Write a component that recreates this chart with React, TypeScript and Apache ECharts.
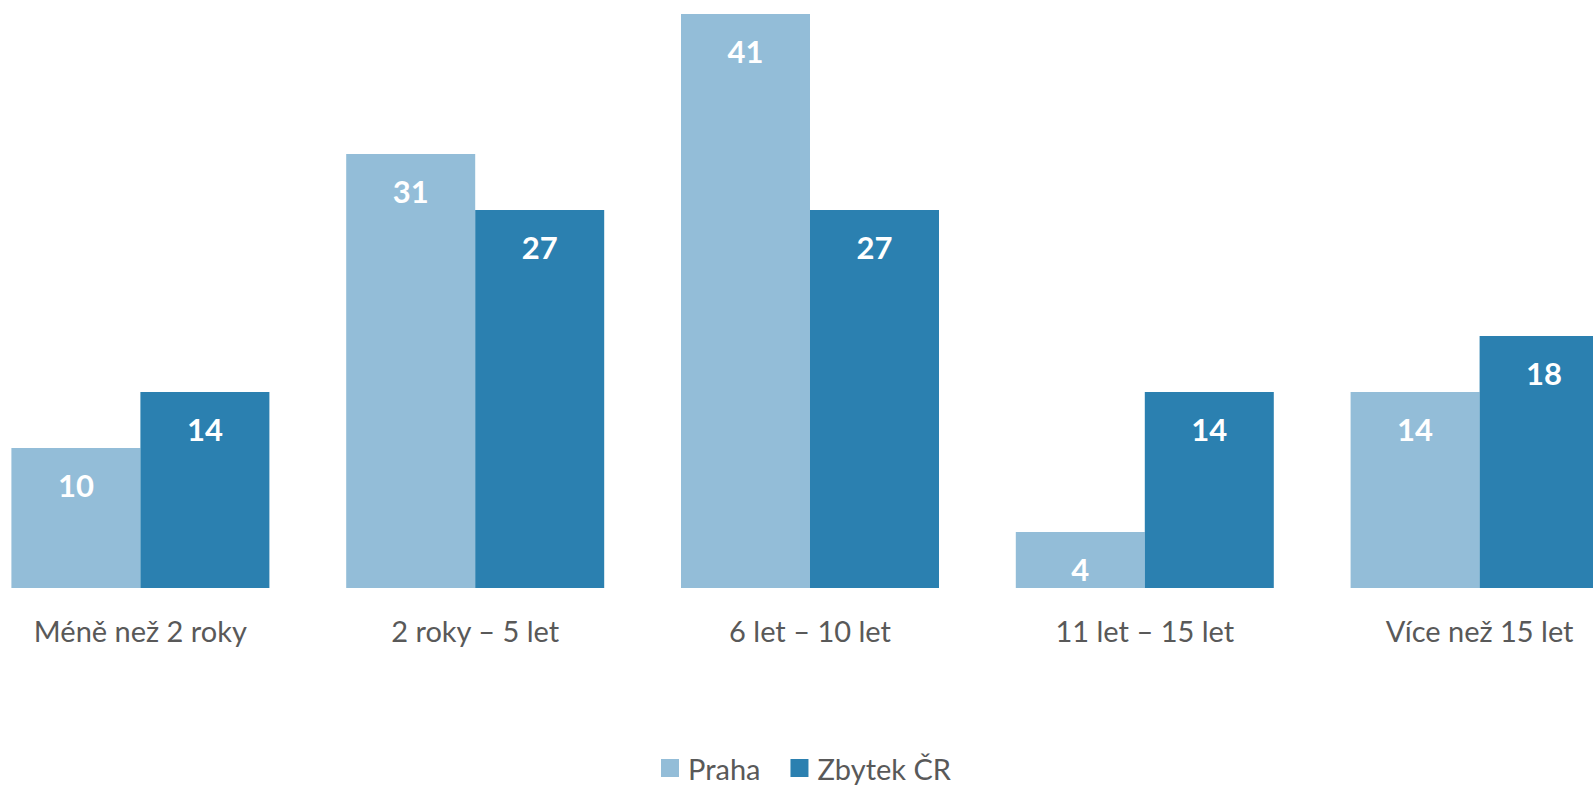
import React, { useEffect, useRef } from "react";
import * as echarts from "echarts";

const categories = ["Méně než 2 roky", "2 roky – 5 let", "6 let – 10 let", "11 let – 15 let", "Více než 15 let"];
const praha = [10, 31, 41, 4, 14];
const zbytek = [14, 27, 27, 14, 18];
const seriesNames = ["Praha", "Zbytek ČR"];

export default function App() {
  const ref = useRef<HTMLDivElement>(null);
  useEffect(() => {
    if (!ref.current) return;
    const chart = echarts.init(ref.current, null, { renderer: "svg" });
    const labelStyle = {
      show: true,
      position: "insideTop",
      distance: 21,
      color: "#ffffff",
      fontFamily: "Lato",
      fontWeight: "bold",
      fontSize: 31,
    };
    chart.setOption({
      animation: false,
      backgroundColor: "#ffffff",
      grid: { left: 0, top: 0, right: 0, bottom: 198, containLabel: false },
      legend: {
        data: seriesNames,
        left: 683,
        top: 748,
        icon: "rect",
        itemWidth: 18,
        itemHeight: 18,
        itemGap: 30,
        textStyle: { fontFamily: "Lato", fontSize: 29, color: "#595959", padding: [0, 0, 0, 4], lineHeight: 30 },
      },
      xAxis: {
        type: "category",
        data: categories,
        axisLine: { show: false },
        axisTick: { show: false },
        axisLabel: { fontFamily: "Lato", fontSize: 29, color: "#595959", margin: 28 },
      },
      yAxis: {
        type: "value",
        min: 0,
        max: 42,
        show: false,
        splitLine: { show: false },
      },
      series: [
        {
          name: seriesNames[0],
          type: "bar",
          data: praha,
          barWidth: 129,
          barGap: "0%",
          itemStyle: { color: "#93BDD8" },
          label: labelStyle,
        },
        {
          name: seriesNames[1],
          type: "bar",
          data: zbytek,
          barWidth: 129,
          barGap: "0%",
          itemStyle: { color: "#2B80B0" },
          label: labelStyle,
        },
      ],
    });
    return () => chart.dispose();
  }, []);
  return (
    <div style={{ position: "fixed", left: 0, top: 0, width: 1593, height: 786, overflow: "hidden", background: "#fff" }}>
      <div
        ref={ref}
        style={{ position: "absolute", left: -27, top: 0, width: 1674, height: 786 }}
      />
    </div>
  );
}
